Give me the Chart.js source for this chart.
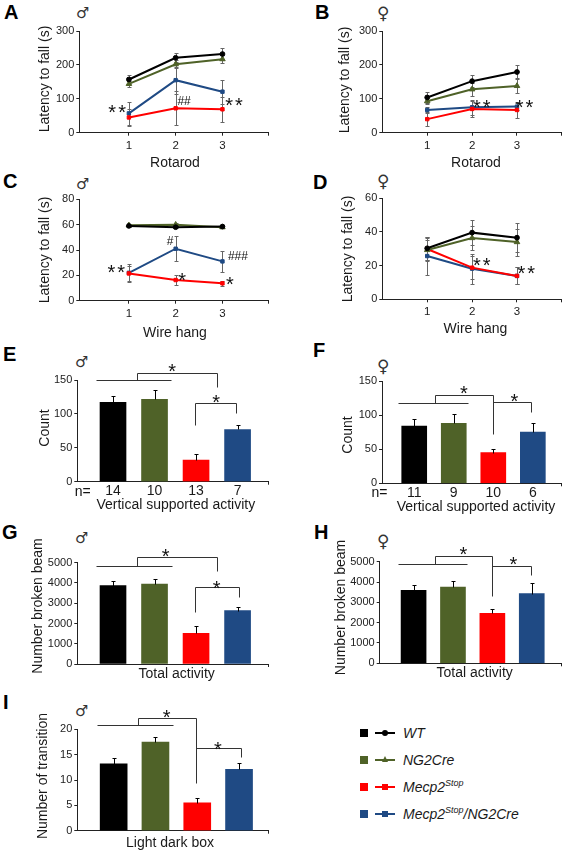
<!DOCTYPE html>
<html>
<head>
<meta charset="utf-8">
<title>Motor and activity phenotypes</title>
<script src="https://cdn.jsdelivr.net/npm/chart.js@4.4.1/dist/chart.umd.min.js"></script>
<style>
  body { margin: 0; width: 566px; height: 853px; position: relative; overflow: hidden; background: #fff;
         font-family: 'Liberation Sans', Arial, sans-serif; color: #1a1a1a; }
  canvas { position: absolute; }
  .tag { position: absolute; font-size: 20px; font-weight: bold; line-height: 1; color: #000; }
  .sex { position: absolute; font-family: 'DejaVu Sans', sans-serif; font-size: 15px; line-height: 1; color: #333; }
  .fem { font-size: 17px; }
  .key { position: absolute; left: 360px; height: 20px; width: 200px; }
  .key .box { position: absolute; left: 0; top: 6px; width: 8px; height: 8px; }
  .key .ln { position: absolute; left: 15px; top: 9px; width: 20px; height: 2px; }
  .key .mk { position: absolute; left: 22px; top: 7px; width: 6px; height: 6px; }
  .key .tri { position: absolute; left: 21.5px; top: 6px; width: 0; height: 0;
              border-left: 3.5px solid transparent; border-right: 3.5px solid transparent; border-bottom: 6px solid #4f6228; }
  .key .txt { position: absolute; left: 43px; top: 1px; font-size: 14px; font-style: italic; line-height: 18px; white-space: nowrap; }
  .key sup { font-size: 9px; vertical-align: 6px; line-height: 0; }
</style>
</head>
<body>
<div class="tag" style="left:4px;top:2px">A</div>
<div class="tag" style="left:315px;top:2px">B</div>
<div class="tag" style="left:3px;top:171px">C</div>
<div class="tag" style="left:313px;top:172px">D</div>
<div class="tag" style="left:3px;top:344px">E</div>
<div class="tag" style="left:313px;top:340px">F</div>
<div class="tag" style="left:2px;top:522px">G</div>
<div class="tag" style="left:314px;top:522px">H</div>
<div class="tag" style="left:3px;top:692px">I</div>

<div class="sex" style="left:76px;top:6px">♂</div>
<div class="sex fem" style="left:377px;top:5px">♀</div>
<div class="sex" style="left:76px;top:177px">♂</div>
<div class="sex fem" style="left:377px;top:173px">♀</div>
<div class="sex" style="left:75px;top:355px">♂</div>
<div class="sex fem" style="left:377px;top:358px">♀</div>
<div class="sex" style="left:75px;top:531px">♂</div>
<div class="sex fem" style="left:377px;top:533px">♀</div>
<div class="sex" style="left:75px;top:704px">♂</div>

<script>
// ---- DATA ----
const groups = ['WT', 'NG2Cre', 'Mecp2Stop', 'Mecp2Stop/NG2Cre'];
const groupLabelsHtml = ['WT', 'NG2Cre', 'Mecp2<sup>Stop</sup>', 'Mecp2<sup>Stop</sup>/NG2Cre'];
const trials = [1, 2, 3];
const barSlots = [1, 2, 3, 4];

// line panels: one row per group (WT, NG2Cre, Mecp2Stop, Mecp2Stop/NG2Cre), trials 1-3
const rotarodMale = [[157, 221, 232], [144, 202, 217], [45, 72, 69], [57, 155, 121]];
const rotarodMaleSem = [[13, 13, 17], [8, 12, 12], [25, 50, 37], [33, 40, 35]];
const rotarodFemale = [[104, 152, 179], [93, 128, 138], [40, 70, 67], [67, 75, 77]];
const rotarodFemaleSem = [[17, 18, 22], [9, 20, 22], [20, 24, 25], [8, 22, 10]];
const wireMale = [[59, 58, 58.5], [59.5, 60, 58], [21.5, 16.3, 13.7], [22, 41, 31]];
const wireMaleSem = [[1, 1, 1], [1, 1, 1], [6, 4, 2], [7, 10, 8.5]];
const wireFemale = [[30.3, 39.6, 36.6], [29.3, 36.4, 34], [29.9, 18.8, 13.9], [25.7, 18.2, 13.9]];
const wireFemaleSem = [[7, 7.5, 8.5], [6, 7, 8], [7, 7, 5], [11, 9, 5]];

// bar panels: one value per group
const verticalMale = [117, 121.5, 32, 77];
const verticalMaleSem = [10, 13.5, 9, 6];
const verticalMaleN = [14, 10, 13, 7];
const verticalFemale = [84, 88, 45, 75];
const verticalFemaleSem = [10, 13.5, 6, 13];
const verticalFemaleN = [11, 9, 10, 6];
const totalMale = [3865, 3947, 1513, 2632];
const totalMaleSem = [230, 250, 360, 200];
const totalFemale = [3590, 3754, 2459, 3426];
const totalFemaleSem = [260, 310, 210, 510];
const lightDarkMale = [13.2, 17.5, 5.5, 12.1];
const lightDarkMaleSem = [1.1, 0.9, 0.9, 1.2];

// y tick labels
const rotarodTicks = [0, 100, 200, 300];
const wireMaleTicks = [0, 20, 40, 60, 80];
const wireFemaleTicks = [0, 20, 40, 60];
const countTicks = [0, 50, 100, 150];
const beamTicks = [0, 1000, 2000, 3000, 4000, 5000];
const transitionTicks = [0, 5, 10, 15, 20];

// ---- STYLE ----
const groupColors = ['#000000', '#4f6228', '#ff0000', '#1f4a84'];
const pointStyles = ['circle', 'triangle', 'rect', 'rect'];
const FONT = "'Liberation Sans', Arial, sans-serif";
Chart.defaults.font.family = FONT;
Chart.defaults.color = '#222';

// ---- PLUGINS ----
function drawErrors(chart, opts) {
  const { ctx, scales: { x, y } } = chart;
  ctx.save();
  ctx.strokeStyle = opts.color;
  ctx.lineWidth = 1;
  chart.data.datasets.forEach((ds, i) => {
    ds.data.forEach((pt, j) => {
      const e = opts.values[i][j];
      const px = Math.round(x.getPixelForValue(pt.x)) + 0.5;
      const top = Math.round(y.getPixelForValue(pt.y + e)) + 0.5;
      const bot = Math.round(y.getPixelForValue(opts.upOnly ? pt.y : pt.y - e)) + 0.5;
      ctx.beginPath();
      ctx.moveTo(px, bot);
      ctx.lineTo(px, top);
      ctx.moveTo(px - opts.cap, top);
      ctx.lineTo(px + opts.cap, top);
      if (!opts.upOnly) {
        ctx.moveTo(px - opts.cap, bot);
        ctx.lineTo(px + opts.cap, bot);
      }
      ctx.stroke();
    });
  });
  ctx.restore();
}

const errorBars = {
  id: 'errorBars',
  beforeDatasetsDraw(chart, args, opts) { if (opts.behind) drawErrors(chart, opts); },
  afterDatasetsDraw(chart, args, opts) { if (!opts.behind) drawErrors(chart, opts); }
};

// brackets, significance marks and axis titles
const notes = {
  id: 'notes',
  afterDraw(chart, args, opts) {
    const { ctx, scales: { x, y } } = chart;
    ctx.save();
    ctx.strokeStyle = '#333';
    ctx.lineWidth = 1;
    (opts.paths || []).forEach(path => {
      ctx.beginPath();
      path.forEach(([vx, vy], k) => {
        const px = Math.round(x.getPixelForValue(vx)) + 0.5;
        const py = Math.round(y.getPixelForValue(vy)) + 0.5;
        if (k) ctx.lineTo(px, py); else ctx.moveTo(px, py);
      });
      ctx.stroke();
    });

    ctx.fillStyle = '#111';
    ctx.textAlign = 'center';
    ctx.textBaseline = 'alphabetic';
    (opts.texts || []).forEach(n => {
      const star = n.t.includes('*');
      const size = star ? 20 : n.t.includes('#') ? 12 : 14;
      ctx.font = size + 'px ' + FONT;
      ctx.letterSpacing = star ? '2px' : '0px';
      ctx.fillText(n.t, x.getPixelForValue(n.x), y.getPixelForValue(n.y) + (star ? 0.58 : 0.35) * size);
    });

    ctx.letterSpacing = '0px';
    ctx.font = '14px ' + FONT;
    ctx.fillStyle = '#1a1a1a';
    ctx.textBaseline = 'middle';
    ctx.fillText(opts.xTitle, opts.xAt[0], opts.xAt[1]);
    ctx.translate(opts.yAt[0], opts.yAt[1]);
    ctx.rotate(-Math.PI / 2);
    ctx.fillText(opts.yTitle, 0, 0);
    ctx.restore();
  }
};

// ---- PANELS (layout only) ----
const panels = [
  { kind: 'line', box: { x: 0, y: 0, w: 283 }, area: { l: 79.3, t: 31, r: 268.3, b: 132.7 }, xRange: [-0.06, 3.98],
    means: rotarodMale, sem: rotarodMaleSem, yTicks: rotarodTicks,
    xTitle: 'Rotarod', yTitle: 'Latency to fall (s)', xAt: [175, 162.7], yAt: [45, 79],
    texts: [{ t: '**', x: 0.77, y: 75.7 }, { t: '##', x: 2.18, y: 93.5 }, { t: '**', x: 3.27, y: 96.5 }] },
  { kind: 'line', box: { x: 283, y: 0, w: 283 }, area: { l: 382.3, t: 31, r: 561.3, b: 132.7 }, xRange: [0, 3.98],
    means: rotarodFemale, sem: rotarodFemaleSem, yTicks: rotarodTicks,
    xTitle: 'Rotarod', yTitle: 'Latency to fall (s)', xAt: [476, 162.7], yAt: [344.7, 80],
    texts: [{ t: '**', x: 2.24, y: 90.6 }, { t: '**', x: 3.19, y: 90.6 }] },
  { kind: 'line', box: { x: 0, y: 170, w: 283 }, area: { l: 79.3, t: 199.3, r: 268.3, b: 300.7 }, xRange: [-0.06, 3.98],
    means: wireMale, sem: wireMaleSem, yTicks: wireMaleTicks,
    xTitle: 'Wire hang', yTitle: 'Latency to fall (s)', xAt: [175, 332.7], yAt: [45, 250],
    texts: [{ t: '**', x: 0.75, y: 26.6 }, { t: '#', x: 1.88, y: 47.1 }, { t: '*', x: 2.16, y: 20.3 },
            { t: '###', x: 3.33, y: 35.3 }, { t: '*', x: 3.18, y: 17.1 }] },
  { kind: 'line', box: { x: 283, y: 170, w: 283 }, area: { l: 382.3, t: 198.3, r: 561.3, b: 299.3 }, xRange: [0, 3.98],
    means: wireFemale, sem: wireFemaleSem, yTicks: wireFemaleTicks,
    xTitle: 'Wire hang', yTitle: 'Latency to fall (s)', xAt: [475.5, 329], yAt: [348, 249],
    texts: [{ t: '**', x: 2.24, y: 23.2 }, { t: '**', x: 3.23, y: 18.1 }] },
  { kind: 'bar', box: { x: 0, y: 340, w: 283 }, area: { l: 77.3, t: 380, r: 268.3, b: 481.7 }, xRange: [0.14, 4.74], barWidth: 26,
    means: verticalMale, sem: verticalMaleSem, n: verticalMaleN, yTicks: countTicks,
    xTitle: 'Vertical supported activity', yTitle: 'Count', xAt: [175.8, 505], yAt: [45, 428],
    texts: [{ t: 'n=', x: 0.27, y: -13.7 }, { t: '*', x: 2.45, y: 170.6 }, { t: '*', x: 3.51, y: 125 }],
    paths: [[[0.59, 150], [2.40, 150]],
            [[1.58, 150], [1.58, 160.3], [3.51, 160.3], [3.51, 139.7]],
            [[2.98, 83.6], [2.98, 116], [3.96, 116], [3.96, 101.3]]] },
  { kind: 'bar', box: { x: 283, y: 340, w: 283 }, area: { l: 382, t: 381, r: 561.3, b: 483.3 }, xRange: [0.185, 4.72], barWidth: 25,
    means: verticalFemale, sem: verticalFemaleSem, n: verticalFemaleN, yTicks: countTicks,
    xTitle: 'Vertical supported activity', yTitle: 'Count', xAt: [476, 506.7], yAt: [348, 435],
    texts: [{ t: 'n=', x: 0.12, y: -12.3 }, { t: '*', x: 2.28, y: 139.7 }, { t: '*', x: 3.56, y: 128 }],
    paths: [[[0.59, 117.7], [2.36, 117.7]],
            [[1.53, 117.7], [1.53, 129.5], [3.0, 129.5], [3.0, 72.3]],
            [[3.0, 118.8], [3.96, 118.8], [3.96, 105]]] },
  { kind: 'bar', box: { x: 0, y: 515, w: 283 }, area: { l: 77.3, t: 562.7, r: 268.3, b: 664 }, xRange: [0.14, 4.74], barWidth: 26,
    means: totalMale, sem: totalMaleSem, yTicks: beamTicks,
    xTitle: 'Total activity', yTitle: 'Number broken beam', xAt: [176.7, 674.5], yAt: [38, 606],
    texts: [{ t: '*', x: 2.29, y: 5563 }, { t: '*', x: 3.52, y: 3964 }],
    paths: [[[0.59, 4837], [2.42, 4837]],
            [[1.58, 4837], [1.58, 5281], [3.51, 5281], [3.51, 4590]],
            [[2.98, 2567], [2.98, 3800], [4.04, 3800], [4.04, 3307]]] },
  { kind: 'bar', box: { x: 283, y: 515, w: 283 }, area: { l: 379.7, t: 561.7, r: 561.3, b: 663.3 }, xRange: [0.14, 4.75], barWidth: 25,
    means: totalFemale, sem: totalFemaleSem, yTicks: beamTicks,
    xTitle: 'Total activity', yTitle: 'Number broken beam', xAt: [474.7, 673], yAt: [341, 607.5],
    texts: [{ t: '*', x: 2.29, y: 5615 }, { t: '*', x: 3.56, y: 5098 }],
    paths: [[[0.60, 4887], [2.36, 4887]],
            [[1.54, 4887], [1.54, 5281], [2.99, 5281], [2.99, 3312]],
            [[2.99, 4803], [3.98, 4803], [3.98, 4345]]] },
  { kind: 'bar', box: { x: 0, y: 680, w: 283 }, area: { l: 77.3, t: 729.3, r: 268.3, b: 830.7 }, xRange: [0.13, 4.70], barWidth: 27,
    means: lightDarkMale, sem: lightDarkMaleSem, yTicks: transitionTicks,
    xTitle: 'Light dark box', yTitle: 'Number of transition', xAt: [170, 843], yAt: [43, 776],
    texts: [{ t: '*', x: 2.29, y: 23.4 }, { t: '*', x: 3.52, y: 17.1 }],
    paths: [[[0.59, 20.8], [2.42, 20.8]],
            [[1.58, 20.8], [1.58, 22.2], [2.98, 22.2], [2.98, 9.35]],
            [[2.98, 16.25], [4.04, 16.25], [4.04, 14.5]]] }
];

// ---- BUILD ----
function buildPanel(p) {
  const cv = document.createElement('canvas');
  const h = Math.round(p.xAt[1] + 10 - p.box.y);
  cv.width = p.box.w;
  cv.height = h;
  cv.style.left = p.box.x + 'px';
  cv.style.top = p.box.y + 'px';
  document.body.appendChild(cv);

  const yWidth = p.area.l - p.box.x;
  const xHeight = p.box.y + h - p.area.b;
  const isLine = p.kind === 'line';

  let datasets, xTicks, xLabels;
  if (isLine) {
    datasets = groups.map((g, i) => ({
      label: g,
      data: trials.map((t, j) => ({ x: t, y: p.means[i][j] })),
      borderColor: groupColors[i],
      backgroundColor: groupColors[i],
      borderWidth: 2,
      pointStyle: pointStyles[i],
      pointRadius: i === 1 ? 3.2 : 2.4,
      pointBorderWidth: 1,
      tension: 0
    }));
    xTicks = trials.concat([p.xRange[1]]);
    xLabels = trials.map(String).concat(['']);
  } else {
    datasets = [{
      label: 'mean',
      data: barSlots.map((s, i) => ({ x: s, y: p.means[i] })),
      backgroundColor: groupColors,
      borderWidth: 0,
      barThickness: p.barWidth
    }];
    xTicks = (p.n ? barSlots : []).concat([p.xRange[1]]);
    xLabels = (p.n ? p.n.map(String) : []).concat(['']);
  }

  new Chart(cv, {
    type: isLine ? 'line' : 'bar',
    data: { datasets },
    options: {
      responsive: false,
      animation: false,
      events: [],
      layout: { padding: { left: 0, top: p.area.t - p.box.y, right: p.box.x + p.box.w - p.area.r, bottom: 0 } },
      plugins: {
        legend: { display: false },
        tooltip: { enabled: false },
        errorBars: isLine
          ? { values: p.sem, color: '#666', cap: 2, behind: true, upOnly: false }
          : { values: [p.sem], color: '#000', cap: 2, behind: false, upOnly: true },
        notes: { texts: p.texts, paths: p.paths, xTitle: p.xTitle, yTitle: p.yTitle,
                 xAt: [p.xAt[0] - p.box.x, p.xAt[1] - p.box.y], yAt: [p.yAt[0] - p.box.x, p.yAt[1] - p.box.y] }
      },
      scales: {
        x: {
          type: 'linear',
          min: p.xRange[0],
          max: p.xRange[1],
          offset: false,
          afterFit: s => { s.height = xHeight; },
          afterBuildTicks: s => { s.ticks = xTicks.map(v => ({ value: v })); },
          ticks: {
            autoSkip: false, maxRotation: 0, minRotation: 0,
            padding: isLine ? 3 : -2,
            font: { size: isLine ? 11.5 : 14 },
            color: '#1a1a1a',
            callback: (v, i) => xLabels[i]
          },
          grid: {
            offset: false,
            drawOnChartArea: false,
            tickLength: 3,
            tickColor: ctx => (isLine || ctx.index === xTicks.length - 1) ? '#222' : 'rgba(0,0,0,0)'
          },
          border: { color: '#222', width: 1 }
        },
        y: {
          min: p.yTicks[0],
          max: p.yTicks[p.yTicks.length - 1],
          afterFit: s => { s.width = yWidth; },
          afterBuildTicks: s => { s.ticks = p.yTicks.map(v => ({ value: v })); },
          ticks: { padding: 2, font: { size: 11 }, color: '#222', callback: v => String(v) },
          grid: { drawOnChartArea: false, tickLength: 3, color: '#222' },
          border: { color: '#222', width: 1 }
        }
      }
    },
    plugins: [errorBars, notes]
  });
}

panels.forEach(buildPanel);

// ---- LEGEND ----
const legendRows = [733, 759.6, 786.5, 813.8];
groups.forEach((g, i) => {
  const row = document.createElement('div');
  row.className = 'key';
  row.style.top = (legendRows[i] - 10) + 'px';
  const marker = i === 1
    ? '<div class="tri"></div>'
    : `<div class="mk" style="background:${groupColors[i]};${i === 0 ? 'border-radius:50%;' : ''}"></div>`;
  row.innerHTML = `<div class="box" style="background:${groupColors[i]}"></div>
    <div class="ln" style="background:${groupColors[i]}"></div>${marker}
    <div class="txt">${groupLabelsHtml[i]}</div>`;
  document.body.appendChild(row);
});
</script>
</body>
</html>
